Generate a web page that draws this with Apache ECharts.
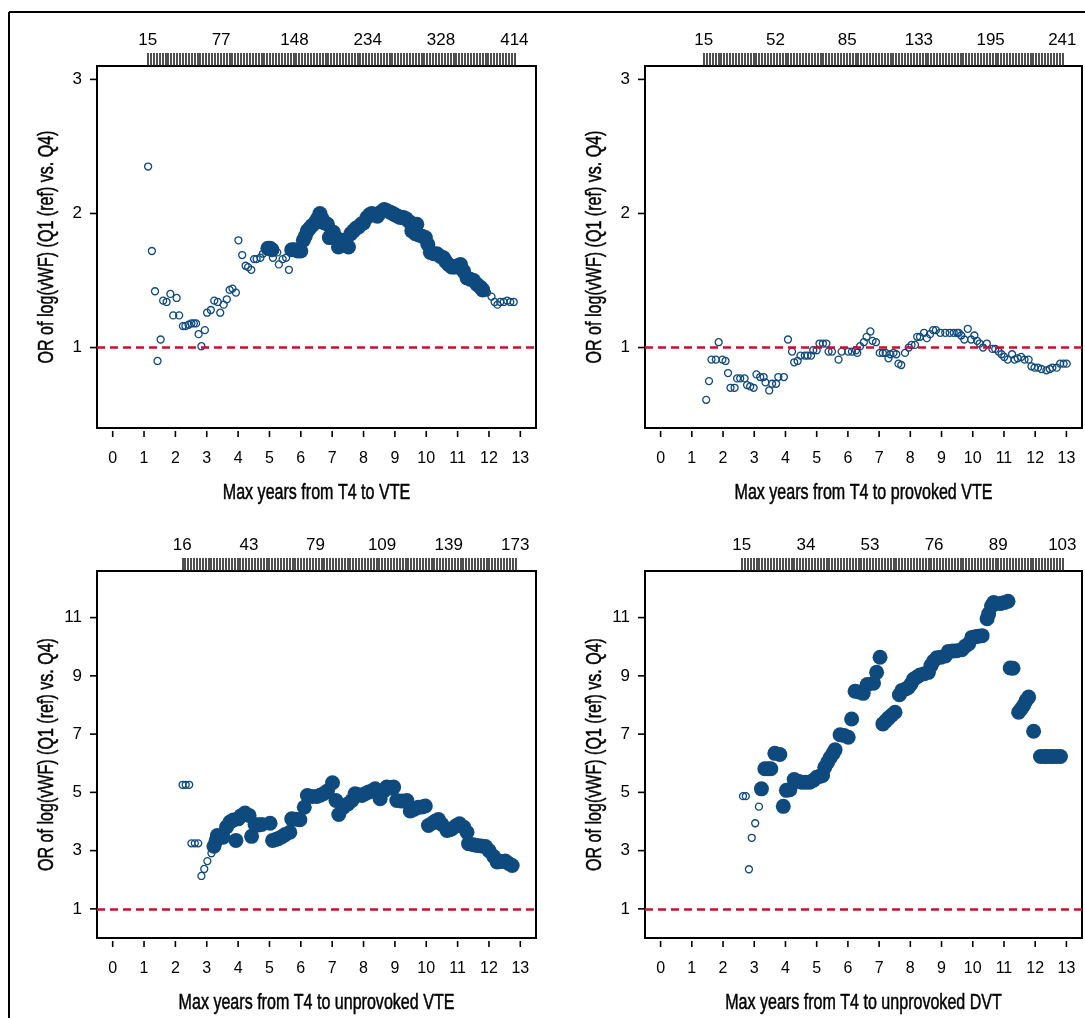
<!DOCTYPE html>
<html>
<head>
<meta charset="utf-8">
<script src="https://cdn.jsdelivr.net/npm/echarts@6.0.0/dist/echarts.min.js"></script>
<style>
  html, body { margin: 0; padding: 0; background: #fff; }
  #chart { width: 1085px; height: 1018px; }
</style>
</head>
<body>
<div id="chart"></div>
<script>
// x ticks shared by all four panels
var xTicks = [0, 1, 2, 3, 4, 5, 6, 7, 8, 9, 10, 11, 12, 13];
var yTicksTop = [1, 2, 3];
var yTicksBottom = [1, 3, 5, 7, 9, 11];

// numbers printed above the rug of each panel
var vteRugLabels = ['15', '77', '148', '234', '328', '414'];
var provRugLabels = ['15', '52', '85', '133', '195', '241'];
var unprovRugLabels = ['16', '43', '79', '109', '139', '173'];
var dvtRugLabels = ['15', '34', '53', '76', '89', '103'];

// [years, OR] ; open = small hollow markers, filled = large solid markers
var vteOpen = [[1.13, 2.35], [1.25, 1.72], [1.35, 1.42], [1.43, 0.90], [1.53, 1.06], [1.61, 1.35], [1.72, 1.34],
    [1.84, 1.40], [1.93, 1.24], [2.04, 1.37], [2.12, 1.24], [2.24, 1.16], [2.32, 1.16], [2.42, 1.17], [2.51, 1.18],
    [2.59, 1.18], [2.66, 1.18], [2.74, 1.10], [2.83, 1.01], [2.94, 1.13], [3.01, 1.26], [3.13, 1.28], [3.24, 1.35],
    [3.35, 1.34], [3.43, 1.26], [3.54, 1.32], [3.64, 1.36], [3.73, 1.43], [3.82, 1.44], [3.93, 1.41], [4.01, 1.80],
    [4.13, 1.69], [4.24, 1.61], [4.32, 1.60], [4.42, 1.58], [4.51, 1.66], [4.59, 1.66], [4.71, 1.67], [4.79, 1.70],
    [5.11, 1.67], [5.25, 1.71], [5.30, 1.62], [5.42, 1.66], [5.53, 1.67], [5.62, 1.58],
    [11.94, 1.41], [12.08, 1.38], [12.18, 1.34], [12.27, 1.32], [12.36, 1.34], [12.47, 1.34], [12.58, 1.35],
    [12.68, 1.34], [12.79, 1.34]];
var vteFilled = [[4.95, 1.74], [5.02, 1.74], [5.08, 1.73], [5.71, 1.73], [5.80, 1.73], [5.90, 1.72], [6.00, 1.72],
    [6.08, 1.80], [6.14, 1.83], [6.21, 1.87], [6.28, 1.89], [6.36, 1.91], [6.45, 1.93], [6.53, 1.96], [6.61, 2.00],
    [6.68, 1.96], [6.75, 1.93], [6.85, 1.92], [6.91, 1.82], [6.97, 1.84], [7.04, 1.86], [7.12, 1.82], [7.20, 1.75],
    [7.28, 1.78], [7.36, 1.80], [7.44, 1.78], [7.52, 1.75], [7.60, 1.85], [7.68, 1.87], [7.76, 1.89], [7.84, 1.90],
    [7.92, 1.92], [8.00, 1.93], [8.11, 1.97], [8.19, 1.99], [8.26, 2.00], [8.35, 1.99], [8.44, 1.98], [8.55, 2.01],
    [8.66, 2.03], [8.75, 2.02], [8.85, 2.01], [8.93, 2.00], [9.01, 1.99], [9.09, 1.98], [9.17, 1.97], [9.27, 1.97],
    [9.36, 1.96], [9.45, 1.94], [9.54, 1.92], [9.62, 1.92], [9.70, 1.92], [9.54, 1.87], [9.65, 1.85], [9.76, 1.84],
    [9.87, 1.83], [9.97, 1.82], [10.05, 1.77], [10.13, 1.71], [10.24, 1.70], [10.34, 1.70], [10.45, 1.68],
    [10.55, 1.67], [10.63, 1.64], [10.71, 1.62], [10.82, 1.60], [10.93, 1.60], [11.01, 1.61], [11.09, 1.62],
    [11.19, 1.57], [11.30, 1.52], [11.40, 1.51], [11.51, 1.50], [11.62, 1.47], [11.73, 1.45], [11.80, 1.43]];

var provOpen = [[1.46, 0.61], [1.55, 0.75], [1.63, 0.91], [1.77, 0.91], [1.86, 1.04], [1.98, 0.91], [2.08, 0.90],
    [2.16, 0.81], [2.24, 0.70], [2.37, 0.70], [2.45, 0.77], [2.55, 0.77], [2.69, 0.77], [2.77, 0.72], [2.87, 0.71],
    [2.98, 0.70], [3.07, 0.80], [3.19, 0.78], [3.30, 0.78], [3.36, 0.74], [3.48, 0.68], [3.57, 0.73], [3.70, 0.73],
    [3.77, 0.78], [3.95, 0.78], [4.08, 1.06], [4.21, 0.97], [4.28, 0.89], [4.39, 0.90], [4.48, 0.94], [4.62, 0.94],
    [4.71, 0.94], [4.82, 0.94], [4.89, 0.98], [5.00, 0.98], [5.09, 1.03], [5.20, 1.03], [5.31, 1.03], [5.38, 0.97],
    [5.49, 0.97], [5.70, 0.91], [5.80, 0.97], [6.01, 0.97], [6.13, 0.97], [6.26, 0.98], [6.30, 0.96], [6.39, 1.01],
    [6.51, 1.04], [6.60, 1.08], [6.72, 1.12], [6.79, 1.05], [6.90, 1.04], [7.02, 0.96], [7.12, 0.96], [7.21, 0.96],
    [7.30, 0.92], [7.36, 0.95], [7.46, 0.96], [7.55, 0.95], [7.62, 0.88], [7.71, 0.87], [7.83, 0.96], [7.95, 1.00],
    [8.04, 1.02], [8.15, 1.02], [8.22, 1.08], [8.31, 1.08], [8.44, 1.11], [8.53, 1.07], [8.63, 1.10], [8.73, 1.13],
    [8.82, 1.13], [8.96, 1.11], [9.12, 1.11], [9.26, 1.11], [9.39, 1.11], [9.50, 1.11], [9.55, 1.11], [9.63, 1.09],
    [9.73, 1.06], [9.84, 1.14], [9.95, 1.06], [10.05, 1.09], [10.14, 1.05], [10.22, 1.03], [10.33, 1.00],
    [10.45, 1.03], [10.63, 0.99], [10.72, 0.99], [10.83, 0.97], [10.92, 0.95], [11.01, 0.93], [11.12, 0.91],
    [11.26, 0.95], [11.34, 0.91], [11.44, 0.92], [11.55, 0.93], [11.66, 0.91], [11.79, 0.91], [11.88, 0.86],
    [11.98, 0.85], [12.09, 0.85], [12.20, 0.84], [12.36, 0.83], [12.47, 0.84], [12.55, 0.85], [12.69, 0.85],
    [12.80, 0.88], [12.91, 0.88], [13.01, 0.88]];
var provFilled = [];

var unprovOpen = [[2.23, 5.26], [2.33, 5.26], [2.44, 5.26], [2.51, 3.25], [2.62, 3.25], [2.73, 3.25], [2.83, 2.13],
    [2.92, 2.37], [3.02, 2.64], [3.15, 2.91]];
var unprovFilled = [[3.23, 3.15], [3.30, 3.35], [3.34, 3.52], [3.45, 3.50], [3.52, 3.46], [3.63, 3.81], [3.74, 3.98],
    [3.85, 4.05], [3.93, 3.35], [4.00, 4.09], [4.10, 4.20], [4.22, 4.29], [4.35, 4.21], [4.43, 3.49], [4.54, 3.90],
    [4.65, 3.88], [4.75, 3.90], [5.02, 3.94], [5.10, 3.35], [5.20, 3.38], [5.28, 3.41], [5.40, 3.48], [5.50, 3.55],
    [5.65, 3.63], [5.71, 4.09], [5.85, 4.08], [5.97, 4.06], [6.11, 4.49], [6.21, 4.89], [6.36, 4.86], [6.51, 4.86],
    [6.62, 4.90], [6.72, 4.95], [6.85, 5.05], [7.01, 5.33], [7.12, 4.72], [7.21, 4.24], [7.36, 4.49], [7.50, 4.60],
    [7.63, 4.72], [7.73, 4.95], [7.85, 4.92], [7.95, 4.89], [8.05, 4.95], [8.16, 5.01], [8.27, 5.05], [8.37, 5.12],
    [8.53, 4.78], [8.64, 5.05], [8.74, 5.18], [8.85, 5.15], [8.96, 5.18], [9.06, 4.72], [9.22, 4.70], [9.38, 4.72],
    [9.49, 4.36], [9.62, 4.42], [9.75, 4.49], [9.87, 4.50], [9.97, 4.53], [10.07, 3.86], [10.20, 3.95],
    [10.30, 4.02], [10.39, 4.07], [10.50, 3.90], [10.66, 3.69], [10.75, 3.72], [10.82, 3.75], [10.95, 3.85],
    [11.06, 3.92], [11.20, 3.80], [11.30, 3.63], [11.35, 3.24], [11.50, 3.20], [11.62, 3.18], [11.75, 3.16],
    [11.89, 3.14], [12.00, 3.00], [12.15, 2.80], [12.26, 2.61], [12.40, 2.63], [12.52, 2.64], [12.63, 2.56],
    [12.74, 2.49]];

var dvtOpen = [[2.64, 4.87], [2.73, 4.87], [2.83, 2.36], [2.92, 3.44], [3.03, 3.94], [3.15, 4.51]];
var dvtFilled = [[3.23, 5.12], [3.34, 5.81], [3.44, 5.81], [3.53, 5.81], [3.66, 6.34], [3.82, 6.30], [3.93, 4.52],
    [4.03, 5.07], [4.14, 5.09], [4.28, 5.44], [4.40, 5.38], [4.52, 5.35], [4.65, 5.35], [4.78, 5.35], [4.90, 5.42],
    [5.00, 5.52], [5.10, 5.55], [5.19, 5.58], [5.26, 5.86], [5.35, 6.03], [5.43, 6.19], [5.52, 6.33], [5.59, 6.46],
    [5.75, 6.98], [5.88, 6.95], [6.01, 6.89], [6.12, 7.52], [6.23, 8.47], [6.36, 8.45], [6.49, 8.40], [6.62, 8.70],
    [6.82, 8.75], [6.92, 9.12], [7.03, 9.64], [7.12, 7.35], [7.21, 7.45], [7.30, 7.55], [7.40, 7.65], [7.51, 7.75],
    [7.65, 8.35], [7.73, 8.50], [7.85, 8.55], [7.94, 8.60], [8.02, 8.72], [8.10, 8.88], [8.20, 8.95], [8.31, 9.03],
    [8.45, 9.07], [8.58, 9.12], [8.66, 9.35], [8.74, 9.50], [8.85, 9.62], [8.98, 9.64], [9.12, 9.68], [9.22, 9.84],
    [9.35, 9.85], [9.49, 9.86], [9.65, 9.90], [9.76, 10.02], [9.87, 10.10], [9.97, 10.32], [10.08, 10.34],
    [10.18, 10.36], [10.30, 10.38], [10.46, 10.96], [10.51, 11.13], [10.60, 11.40], [10.67, 11.52], [10.88, 11.48],
    [11.02, 11.52], [11.13, 11.56], [11.20, 9.27], [11.29, 9.26], [11.47, 7.75], [11.55, 7.86], [11.63, 7.98],
    [11.71, 8.15], [11.79, 8.27], [11.95, 7.10], [12.17, 6.23], [12.30, 6.23], [12.38, 6.23], [12.50, 6.23],
    [12.59, 6.23], [12.70, 6.23], [12.81, 6.23]];

var xMin = -0.5, xMax = 13.5;
var blue = '#0f4a7e';
var red = '#c8102e';
var tickFont = 'Liberation Sans, Arial, sans-serif';
var yTitle = 'OR of log(vWF) (Q1 (ref) vs. Q4)';

var panels = [
    { left: 97, top: 66, width: 439, height: 362, yMin: 0.4, yMax: 3.1, yTicks: yTicksTop,
      open: vteOpen, filled: vteFilled, title: 'Max years from T4 to VTE',
      rugFrom: 1.12, rugTo: 12.81, rugCount: 126, rugLabels: vteRugLabels },
    { left: 645, top: 66, width: 437, height: 362, yMin: 0.4, yMax: 3.1, yTicks: yTicksTop,
      open: provOpen, filled: provFilled, title: 'Max years from T4 to provoked VTE',
      rugFrom: 1.38, rugTo: 12.87, rugCount: 123, rugLabels: provRugLabels },
    { left: 97, top: 571, width: 439, height: 367, yMin: 0, yMax: 12.6, yTicks: yTicksBottom,
      open: unprovOpen, filled: unprovFilled, title: 'Max years from T4 to unprovoked VTE',
      rugFrom: 2.22, rugTo: 12.84, rugCount: 115, rugLabels: unprovRugLabels },
    { left: 645, top: 571, width: 437, height: 367, yMin: 0, yMax: 12.6, yTicks: yTicksBottom,
      open: dvtOpen, filled: dvtFilled, title: 'Max years from T4 to unprovoked DVT',
      rugFrom: 2.6, rugTo: 12.87, rugCount: 110, rugLabels: dvtRugLabels }
];

var grids = [], xAxes = [], yAxes = [], series = [], graphics = [];

// short black tick marks outside the box, placed through the axis scales
function tickSeries(i, data, dir) {
    return {
        type: 'custom', xAxisIndex: 3 * i, yAxisIndex: 2 * i, data: data, clip: false, silent: true, z: 5,
        renderItem: function (params, api) {
            var pt = api.coord([api.value(0), api.value(1)]);
            var shape = dir === 'y'
                ? { x1: pt[0] - 7, y1: pt[1], x2: pt[0] - 1, y2: pt[1] }
                : { x1: pt[0], y1: pt[1] + 3, x2: pt[0], y2: pt[1] + 9 };
            return { type: 'line', shape: shape, style: { stroke: '#000', lineWidth: 1.6 } };
        }
    };
}

panels.forEach(function (p, i) {
    var pxPerYear = p.width / (xMax - xMin);
    var rugLeft = p.left + (p.rugFrom - xMin) * pxPerYear;
    var rugWidth = (p.rugTo - p.rugFrom) * pxPerYear;

    // main plot
    grids.push({ left: p.left, top: p.top, width: p.width, height: p.height,
        show: true, borderColor: '#000', borderWidth: 2, backgroundColor: '#fff' });
    // rug strip above it
    grids.push({ left: rugLeft, top: p.top - 13, width: rugWidth, height: 13, show: false });

    xAxes.push({
        gridIndex: 2 * i, type: 'value', min: xMin, max: xMax, position: 'bottom',
        axisLine: { show: false }, axisTick: { show: false },
        axisLabel: { customValues: xTicks, margin: 23, fontSize: 16, color: '#000', fontFamily: tickFont },
        splitLine: { show: false }
    });
    xAxes.push({
        gridIndex: 2 * i + 1, type: 'value', min: 0, max: p.rugCount, interval: 1, position: 'bottom',
        axisLine: { show: false },
        axisTick: { inside: true, length: 13, lineStyle: { color: '#222', width: 1.6 } },
        axisLabel: { show: false },
        splitLine: { show: false }
    });
    xAxes.push({
        gridIndex: 2 * i + 1, type: 'value', min: 0, max: p.rugLabels.length - 1, interval: 1, position: 'top',
        axisLine: { show: false }, axisTick: { show: false }, splitLine: { show: false },
        axisLabel: {
            margin: 4, fontSize: 17, color: '#000', fontFamily: tickFont,
            formatter: (function (labels) { return function (v) { return labels[Math.round(v)]; }; })(p.rugLabels)
        }
    });

    yAxes.push({
        gridIndex: 2 * i, type: 'value', min: p.yMin, max: p.yMax,
        axisLine: { show: false }, axisTick: { show: false },
        axisLabel: { customValues: p.yTicks, margin: 15, fontSize: 17, color: '#000', fontFamily: tickFont },
        splitLine: { show: false }
    });
    yAxes.push({ gridIndex: 2 * i + 1, type: 'value', min: 0, max: 1, show: false });

    series.push({
        type: 'scatter', xAxisIndex: 3 * i, yAxisIndex: 2 * i, data: p.filled,
        symbol: 'circle', symbolSize: 15, itemStyle: { color: blue, opacity: 1 },
        silent: true, z: 3,
        markLine: {
            silent: true, symbol: 'none', label: { show: false },
            lineStyle: { color: red, type: [8, 5], width: 2.5 },
            data: [{ yAxis: 1 }]
        }
    });
    series.push({
        type: 'scatter', xAxisIndex: 3 * i, yAxisIndex: 2 * i, data: p.open,
        symbol: 'circle', symbolSize: 7,
        itemStyle: { color: 'rgba(0,0,0,0)', borderColor: blue, borderWidth: 1.3, opacity: 1 },
        silent: true, z: 4
    });
    series.push(tickSeries(i, p.yTicks.map(function (v) { return [xMin, v]; }), 'y'));
    series.push(tickSeries(i, xTicks.map(function (v) { return [v, p.yMin]; }), 'x'));

    // condensed axis titles
    graphics.push({
        type: 'text', x: p.left + p.width / 2, y: p.top + p.height + 65, scaleX: 0.73,
        style: { text: p.title, fontSize: 22, fontFamily: tickFont, fill: '#000',
            stroke: '#000', lineWidth: 0.5, textAlign: 'center', textVerticalAlign: 'middle' }
    });
    graphics.push({
        type: 'text', x: p.left - 50, y: p.top + p.height / 2, rotation: Math.PI / 2, scaleX: 0.73,
        style: { text: yTitle, fontSize: 22, fontFamily: tickFont, fill: '#000',
            stroke: '#000', lineWidth: 0.5, textAlign: 'center', textVerticalAlign: 'middle' }
    });
});

graphics.push({ type: 'line', shape: { x1: 9, y1: 12, x2: 1085, y2: 12 }, style: { stroke: '#000', lineWidth: 2 } });
graphics.push({ type: 'line', shape: { x1: 9, y1: 12, x2: 9, y2: 1018 }, style: { stroke: '#000', lineWidth: 2 } });

var chart = echarts.init(document.getElementById('chart'));
chart.setOption({
    animation: false,
    backgroundColor: '#fff',
    grid: grids,
    xAxis: xAxes,
    yAxis: yAxes,
    series: series,
    graphic: graphics
});
</script>
</body>
</html>
